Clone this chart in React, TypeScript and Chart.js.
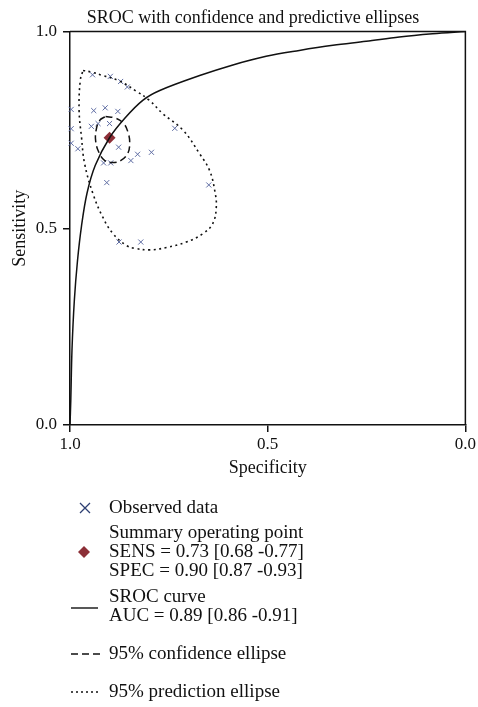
import React, { useEffect, useRef } from "react";
import { Chart, registerables } from "chart.js";

Chart.register(...registerables);

const titleText = "SROC with confidence and predictive ellipses";
const xTitle = "Specificity";
const yTitle = "Sensitivity";

// Observed studies (specificity, sensitivity)
const observedSpec = [0.943, 0.898, 0.872, 0.855, 0.997, 0.94, 0.911, 0.879, 0.997, 0.946, 0.929, 0.9, 0.735, 0.997, 0.98, 0.877, 0.829, 0.794, 0.915, 0.897, 0.846, 0.907, 0.649, 0.876, 0.821];
const observedSens = [0.89, 0.886, 0.873, 0.859, 0.802, 0.799, 0.806, 0.797, 0.753, 0.759, 0.766, 0.766, 0.754, 0.716, 0.702, 0.706, 0.688, 0.693, 0.666, 0.666, 0.672, 0.616, 0.61, 0.465, 0.465];

const summarySpec = [0.9];
const summarySens = [0.73];

// SROC curve
const srocSpec = [1.0, 0.998, 0.995, 0.989, 0.981, 0.971, 0.957, 0.936, 0.9, 0.862, 0.816, 0.773, 0.672, 0.588, 0.504, 0.42, 0.335, 0.251, 0.167, 0.083, 0.0];
const srocSens = [0.0, 0.063, 0.19, 0.317, 0.418, 0.505, 0.589, 0.66, 0.73, 0.779, 0.825, 0.85, 0.888, 0.915, 0.937, 0.952, 0.965, 0.975, 0.986, 0.994, 1.0];

// 95% confidence ellipse
const confSpec = [0.91, 0.885, 0.864, 0.853, 0.849, 0.854, 0.872, 0.892, 0.912, 0.927, 0.935, 0.934, 0.925, 0.91];
const confSens = [0.784, 0.78, 0.766, 0.743, 0.716, 0.69, 0.672, 0.667, 0.672, 0.693, 0.721, 0.749, 0.774, 0.784];

// 95% prediction ellipse
const predSpec = [0.967, 0.946, 0.917, 0.874, 0.832, 0.799, 0.765, 0.714, 0.672, 0.647, 0.634, 0.63, 0.639, 0.664, 0.706, 0.756, 0.799, 0.836, 0.857, 0.891, 0.917, 0.942, 0.963, 0.971, 0.977, 0.974, 0.967];
const predSens = [0.901, 0.897, 0.888, 0.874, 0.848, 0.825, 0.791, 0.749, 0.689, 0.647, 0.596, 0.554, 0.512, 0.486, 0.465, 0.451, 0.445, 0.449, 0.456, 0.486, 0.528, 0.588, 0.664, 0.732, 0.799, 0.876, 0.901];

const xTicks = [1.0, 0.5, 0.0];
const yTicks = [0.0, 0.5, 1.0];

const legendObserved = ["Observed data"];
const legendSummary = ["Summary operating point", "SENS = 0.73 [0.68 -0.77]", "SPEC = 0.90 [0.87 -0.93]"];
const legendSroc = ["SROC curve", "AUC = 0.89 [0.86 -0.91]"];
const legendConf = ["95% confidence ellipse"];
const legendPred = ["95% prediction ellipse"];

const FONT = "'Liberation Serif', 'Times New Roman', serif";
const crossColor = "#5f6da3";
const diamondColor = "#8c2f37";

const pts = (xs: number[], ys: number[]) => xs.map((x, i) => ({ x, y: ys[i] }));

const boxPlugin = {
  id: "boxPlugin",
  afterDraw(chart: any) {
    const { ctx, chartArea } = chart;
    ctx.save();
    ctx.strokeStyle = "#111";
    ctx.lineWidth = 1.5;
    ctx.beginPath();
    ctx.moveTo(chartArea.left, chartArea.top);
    ctx.lineTo(chartArea.right, chartArea.top);
    ctx.lineTo(chartArea.right, chartArea.bottom);
    ctx.stroke();
    // title
    ctx.fillStyle = "#111";
    ctx.font = `18px ${FONT}`;
    ctx.textAlign = "center";
    ctx.textBaseline = "middle";
    ctx.fillText(titleText, 253, 18);
    ctx.restore();
  },
};

const legendPlugin = {
  id: "legendPlugin",
  afterDraw(chart: any) {
    const ctx = chart.ctx;
    ctx.save();
    ctx.fillStyle = "#111";
    ctx.font = `19px ${FONT}`;
    ctx.textBaseline = "middle";
    ctx.textAlign = "left";
    const tx = 109;
    const lines = (arr: string[], y0: number) => arr.forEach((t, i) => ctx.fillText(t, tx, y0 + i * 19.2));
    lines(legendObserved, 508);
    lines(legendSummary, 533);
    lines(legendSroc, 597);
    lines(legendConf, 654);
    lines(legendPred, 692);

    // cross symbol
    ctx.strokeStyle = "#2d3f72";
    ctx.lineWidth = 1.3;
    ctx.beginPath();
    ctx.moveTo(80, 503);
    ctx.lineTo(90, 513);
    ctx.moveTo(90, 503);
    ctx.lineTo(80, 513);
    ctx.stroke();

    // diamond
    ctx.fillStyle = diamondColor;
    ctx.beginPath();
    ctx.moveTo(84, 546);
    ctx.lineTo(90, 552);
    ctx.lineTo(84, 558);
    ctx.lineTo(78, 552);
    ctx.closePath();
    ctx.fill();

    ctx.strokeStyle = "#111";
    ctx.lineWidth = 1.4;
    ctx.beginPath();
    ctx.moveTo(71, 608);
    ctx.lineTo(98, 608);
    ctx.stroke();

    ctx.setLineDash([7, 4]);
    ctx.beginPath();
    ctx.moveTo(71, 654);
    ctx.lineTo(100, 654);
    ctx.stroke();

    ctx.setLineDash([2, 3]);
    ctx.beginPath();
    ctx.moveTo(71, 692);
    ctx.lineTo(100, 692);
    ctx.stroke();
    ctx.restore();
  },
};

export default function App() {
  const ref = useRef<HTMLCanvasElement | null>(null);

  useEffect(() => {
    if (!ref.current) return;
    const chart = new Chart(ref.current, {
      type: "scatter",
      data: {
        datasets: [
          {
            label: "95% prediction ellipse",
            data: pts(predSpec, predSens),
            showLine: true,
            borderColor: "#111",
            borderWidth: 1.6,
            borderDash: [2, 3.5],
            pointRadius: 0,
            tension: 0.4,
            fill: false,
          },
          {
            label: "95% confidence ellipse",
            data: pts(confSpec, confSens),
            showLine: true,
            borderColor: "#111",
            borderWidth: 1.5,
            borderDash: [7, 4],
            pointRadius: 0,
            tension: 0.4,
            fill: false,
          },
          {
            label: "SROC curve",
            data: pts(srocSpec, srocSens),
            showLine: true,
            borderColor: "#111",
            borderWidth: 1.5,
            pointRadius: 0,
            tension: 0.35,
            fill: false,
          },
          {
            label: "Observed data",
            data: pts(observedSpec, observedSens),
            pointStyle: "crossRot",
            pointRadius: 3.6,
            borderColor: crossColor,
            backgroundColor: crossColor,
            borderWidth: 1,
            clip: false,
          },
          {
            label: "Summary operating point",
            data: pts(summarySpec, summarySens),
            pointStyle: "rectRot",
            pointRadius: 6,
            borderColor: diamondColor,
            backgroundColor: diamondColor,
            borderWidth: 0,
            clip: false,
          },
        ] as any,
      },
      options: {
        animation: false,
        responsive: false,
        events: [],
        layout: { padding: { left: 0, right: 12, top: 31.5, bottom: 225 } },
        plugins: {
          legend: { display: false },
          tooltip: { enabled: false },
          title: { display: false },
        },
        scales: {
          x: {
            type: "linear",
            reverse: true,
            min: 0,
            max: 1,
            afterFit: (s: any) => {
              s.height = 57;
            },
            afterBuildTicks: (s: any) => {
              s.ticks = xTicks.map((v) => ({ value: v }));
            },
            ticks: {
              color: "#111",
              font: { family: FONT, size: 17 },
              padding: 2,
              callback: (v: any) => Number(v).toFixed(1),
              maxRotation: 0,
            },
            grid: { drawOnChartArea: false, drawTicks: true, tickLength: 7, color: "#111", lineWidth: 1.5 },
            border: { display: true, color: "#111", width: 1.5 },
            title: {
              display: true,
              text: xTitle,
              color: "#111",
              font: { family: FONT, size: 18 },
              padding: { top: 0, bottom: 3 },
            },
          },
          y: {
            type: "linear",
            min: 0,
            max: 1,
            afterFit: (s: any) => {
              s.width = 70;
            },
            afterBuildTicks: (s: any) => {
              s.ticks = yTicks.map((v) => ({ value: v }));
            },
            ticks: {
              color: "#111",
              font: { family: FONT, size: 17 },
              padding: 6,
              callback: (v: any) => Number(v).toFixed(1),
            },
            grid: { drawOnChartArea: false, drawTicks: true, tickLength: 7, color: "#111", lineWidth: 1.5 },
            border: { display: true, color: "#111", width: 1.5 },
            title: {
              display: true,
              text: yTitle,
              color: "#111",
              font: { family: FONT, size: 18 },
              padding: { top: 9, bottom: 0 },
            },
          },
        },
      } as any,
      plugins: [boxPlugin, legendPlugin],
    });
    return () => chart.destroy();
  }, []);

  return (
    <div style={{ position: "absolute", left: 0, top: 0, width: 478, height: 707, background: "#fff" }}>
      <canvas ref={ref} width={478} height={707} style={{ display: "block" }} />
    </div>
  );
}
